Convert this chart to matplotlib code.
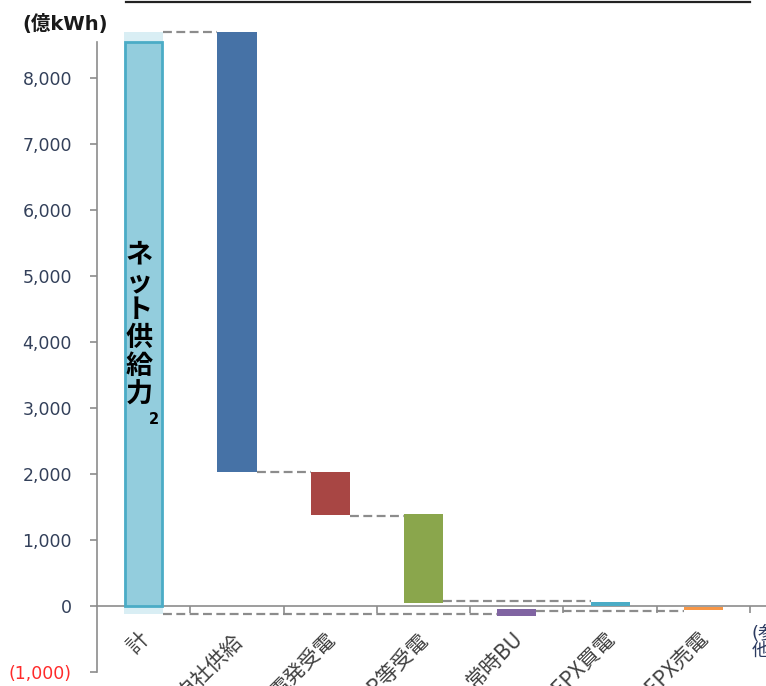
import matplotlib.pyplot as plt
import matplotlib.lines as mlines
import numpy as np

plt.rcParams['font.family'] = ['DejaVu Sans', 'Noto Sans CJK JP']

# 供給力の内訳 (億kWh)
categories = ['計', '自社供給', '電発受電', 'IPP等受電', '常時BU', 'JEPX買電', 'JEPX売電']
last_label = '(参考)\n他社'
bar_low = [0, 2030, 1380, 50, -140, 0, -60]
bar_high = [8550, 8700, 2030, 1400, -40, 65, -15]
gross_low, gross_high = -120, 8700
bar_colors = ['#93cddd', '#4672a6', '#a84644', '#8aa64c', '#8064a2', '#4bacc6', '#f79646']

# (level, from bar, to bar)
links = [(8700, 0, 1), (2030, 1, 2), (1370, 2, 3), (75, 3, 5), (-120, 0, 4), (-75, 4, 6)]

yticks = np.arange(-1000, 9000, 1000)

fig = plt.figure(figsize=(7.66, 6.86), dpi=100)
ax = fig.add_axes([0.1266, 0.0200, 0.9744, 0.9428])
ax.set_xlim(-0.5, 7.5)
ax.set_ylim(-1000, 8800)

w = 0.42
# light backdrop behind the total bar
ax.bar(0, gross_high - gross_low, w, bottom=gross_low, color='#d9eef4', zorder=1, clip_on=False)
for i in range(len(categories)):
    if i == 0:
        ax.bar(i, bar_high[i] - bar_low[i], w - 0.025, bottom=bar_low[i], color=bar_colors[i],
               edgecolor='#4bacc6', linewidth=2.0, zorder=2, clip_on=False)
    else:
        ax.bar(i, bar_high[i] - bar_low[i], w, bottom=bar_low[i], color=bar_colors[i],
               zorder=2, clip_on=False)

for level, a, b in links:
    ax.plot([a + w / 2, b - w / 2], [level, level], color='#8c8c8c', lw=1.6,
            ls=(0, (4, 2)), zorder=1.5, clip_on=False)

# axes styling
for s in ['top', 'right']:
    ax.spines[s].set_visible(False)
ax.spines['left'].set_bounds(-1000, 8550)
ax.spines['left'].set_color('#8c8c8c')
ax.spines['left'].set_linewidth(1.2)
ax.spines['bottom'].set_position(('data', 0))
ax.spines['bottom'].set_color('#8c8c8c')
ax.spines['bottom'].set_linewidth(1.2)
ax.spines['bottom'].set_zorder(1.8)

ax.set_yticks(yticks)
ax.set_yticklabels([f'({abs(v):,})' if v < 0 else f'{v:,}' for v in yticks])
ax.tick_params(axis='y', direction='out', length=5, width=1.2, color='#8c8c8c',
               pad=13, labelsize=12.5, labelcolor='#33405a')
ax.get_yticklabels()[0].set_color('#ff2a2a')

ax.set_xticks(np.arange(0.5, 7.5, 1))
ax.set_xticklabels([])
ax.tick_params(axis='x', direction='out', length=5, width=1.2, color='#8c8c8c')

for i, lab in enumerate(categories):
    ax.text(i - 0.06, -330, lab, rotation=45, ha='right', va='top', rotation_mode='anchor',
            fontsize=15, color='#404040', family=['Noto Sans CJK JP'])
ax.text(6.52, -280, last_label, ha='left', va='top', fontsize=13, color='#2b3a60',
        family=['DejaVu Sans', 'Noto Sans CJK JP'], linespacing=0.95, clip_on=False)

# vertical label inside the total bar
for k, ch in enumerate('ネット供給力'):
    ax.text(-0.045, 5330 - k * 424, ch, ha='center', va='center', fontsize=19.5,
            fontweight='bold', color='black', family=['Noto Sans CJK JP'], zorder=3)
ax.text(0.115, 2830, '2', ha='center', va='center', fontsize=10.5, fontweight='bold',
        color='black', zorder=3)

fig.text(22 / 766, 1 - 24 / 686, '(億kWh)', ha='left', va='center', fontsize=14,
         fontweight='bold', color='#1a1a1a')
fig.add_artist(mlines.Line2D([126 / 766, 750 / 766], [1 - 2 / 686, 1 - 2 / 686],
                             color='#222222', lw=1.6))

fig.savefig('out.png', dpi=100)
